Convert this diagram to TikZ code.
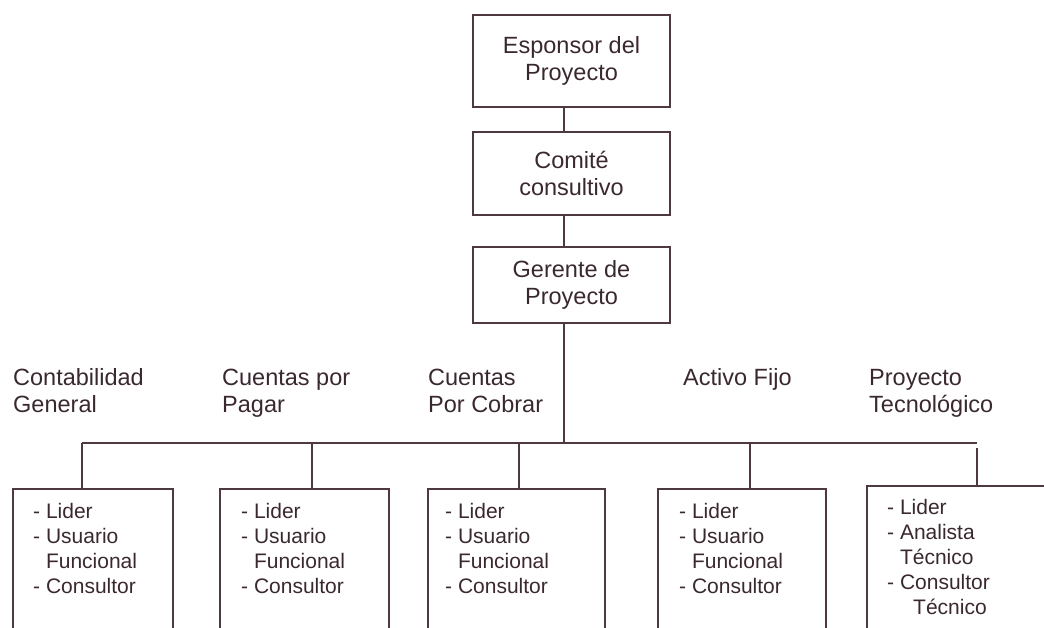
\documentclass[tikz,border=0pt]{standalone}
\usepackage{fontspec}
\setmainfont{Liberation Sans}
\usetikzlibrary{
  positioning,
}
\definecolor{ink}{HTML}{3A2830}
\definecolor{rule}{HTML}{4E3842}

\begin{document}
\begin{tikzpicture}[
    node distance=25pt,
    x = 1pt,
    y = -1pt,
    n/.style={
      draw=rule, line width=2.6pt, minimum width=197pt,
      inner sep=0pt, outer sep=0pt, align=center, text=ink,
      font=\fontsize{23.5}{27}\selectfont,
    },
    m/.style={
      draw=rule, line width=2.6pt, minimum height=170pt,
      inner sep=0pt, outer sep=0pt, anchor=north,
    },
    b/.style={text=ink, align=left, anchor=base west, inner sep=0pt,
      font=\fontsize{23.5}{27}\selectfont},
    c/.style={text=ink, align=left, anchor=base west, inner sep=0pt,
      font=\fontsize{21}{24.8}\selectfont},
    l/.style={draw=rule, line width=2pt},]
  \clip (0,0) rectangle (1044,628);
  \node[n, minimum height=92pt](Esp) at (571.5,61) {Esponsor del\\Proyecto};
  \node[n, minimum height=83pt, below=25pt of Esp](Com) {Comit\'e\\consultivo};
  \node[n, minimum height=76pt, below=32pt of Com](Ger) {Gerente de\\Proyecto};
  %%
  \coordinate (trunk) at (564,443);
  \coordinate (barL) at (82,443);
  \coordinate (barR) at (977,443);
  \draw[l](Esp.south -| trunk) -- (Com.north -| trunk);
  \draw[l](Com.south -| trunk) -- (Ger.north -| trunk);
  \draw[l](Ger.south -| trunk) -- (trunk);
  \draw[l](barL) -- (barR);
  %%
  % base = baseline of the last line
  \node[b](CGh) at (13,412) {Contabilidad\\General};
  \node[b](CPh) at (222,412) {Cuentas por\\Pagar};
  \node[b](CCh) at (428,412) {Cuentas\\Por Cobrar};
  \node[b](AFh) at (683,385) {Activo Fijo};
  \node[b](PTh) at (869,412) {Proyecto\\Tecnol\'ogico};
  %%
  \node[m, minimum width=160pt](CG) at (93,489) {};
  \node[m, minimum width=169pt](CP) at (304.5,489) {};
  \node[m, minimum width=177pt](CC) at (516.5,489) {};
  \node[m, minimum width=168pt](AF) at (742,489) {};
  \node[m, minimum width=240pt](PT) at (987,486) {};
  %%
  \coordinate (dCP) at (312,443);
  \coordinate (dCC) at (519,443);
  \coordinate (dAF) at (750,443);
  \coordinate (dPT) at (977,448);
  \draw[l](barL) -- (barL |- CG.north);
  \draw[l](dCP) -- (dCP |- CP.north);
  \draw[l](dCC) -- (dCC |- CC.north);
  \draw[l](dAF) -- (dAF |- AF.north);
  \draw[l](dPT) -- (dPT |- PT.north);
  %%
  \node[c](CGt) at (33,593)
  {- Lider\\- Usuario\\\phantom{- }Funcional\\- Consultor};
  \node[c](CPt) at (241,593)
  {- Lider\\- Usuario\\\phantom{- }Funcional\\- Consultor};
  \node[c](CCt) at (445,593)
  {- Lider\\- Usuario\\\phantom{- }Funcional\\- Consultor};
  \node[c](AFt) at (679,593)
  {- Lider\\- Usuario\\\phantom{- }Funcional\\- Consultor};
  \node[c](PTt) at (887,614)
  {- Lider\\- Analista\\\phantom{- }T\'ecnico\\- Consultor\\\hspace*{26pt}T\'ecnico};
\end{tikzpicture}
\end{document}
